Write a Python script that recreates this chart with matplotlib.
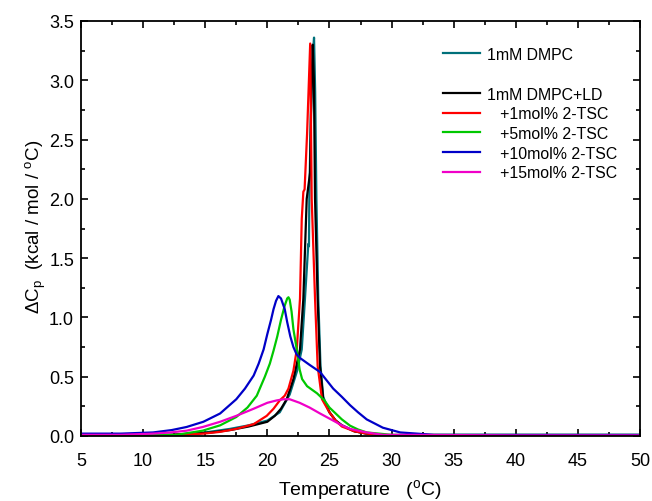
import matplotlib
matplotlib.use("Agg")
import matplotlib.pyplot as plt
from matplotlib.lines import Line2D
from matplotlib.ticker import MultipleLocator, FormatStrFormatter

plt.rcParams['font.family'] = ['Liberation Sans', 'DejaVu Sans']
plt.rcParams['mathtext.fontset'] = 'custom'
plt.rcParams['mathtext.rm'] = 'Liberation Sans'
plt.rcParams['mathtext.it'] = 'Liberation Sans:italic'

labels = ['1mM DMPC', '1mM DMPC+LD', '   +1mol% 2-TSC', '   +5mol% 2-TSC',
          '   +10mol% 2-TSC', '   +15mol% 2-TSC']
colors = ['#00707a', '#000000', '#ff0000', '#00c800', '#0000c8', '#f000c8']

t_dmpc = [5, 10, 13, 15, 17, 18.5, 20, 21, 21.8, 22.4, 22.77, 23.03, 23.2, 23.3, 23.35,
          23.38, 23.5, 23.65, 23.76, 23.85, 23.95, 24.1, 24.28, 24.5, 25.0, 25.5, 26, 27, 28, 30, 50]
cp_dmpc = [0.0, 0.0, 0.01, 0.03, 0.06, 0.09, 0.13, 0.2, 0.35, 0.55, 0.73, 1.16, 1.45, 1.62, 1.6,
           2.0, 2.7, 3.2, 3.36, 2.9, 2.0, 1.16, 0.59, 0.33, 0.2, 0.13, 0.09, 0.04, 0.02, 0.0, 0.0]

t_ld = [5, 10, 12, 14, 15.5, 17, 18.5, 20, 20.6, 21.1, 21.56, 22.1, 22.63, 22.9, 23.17,
        23.44, 23.55, 23.65, 23.75, 23.84, 24.05, 24.24, 24.5, 25.0, 25.5, 26, 27, 28, 30, 50]
cp_ld = [0.0, 0.0, 0.01, 0.02, 0.03, 0.05, 0.08, 0.12, 0.17, 0.23, 0.31, 0.48, 0.73, 1.16, 2.0,
         2.22, 2.9, 3.3, 3.0, 2.0, 1.16, 0.59, 0.31, 0.2, 0.13, 0.09, 0.04, 0.02, 0.0, 0.0]

t_1 = [5, 10, 13, 14.85, 16.2, 17.5, 18.9, 19.95, 20.5, 21.0, 21.4, 21.7, 22.1, 22.37, 22.63,
       22.77, 22.9, 23.0, 23.2, 23.45, 23.57, 23.84, 24.05, 24.4, 25.0, 25.5, 26, 27, 28, 30, 50]
cp_1 = [0.0, 0.0, 0.01, 0.02, 0.035, 0.06, 0.1, 0.17, 0.23, 0.3, 0.34, 0.4, 0.55, 0.73, 1.16,
        1.83, 2.06, 2.08, 2.55, 3.31, 2.0, 1.16, 0.59, 0.31, 0.2, 0.13, 0.08, 0.04, 0.02, 0.0, 0.0]

t_5 = [5, 10, 12.7, 14.8, 16.2, 17.5, 18.4, 19.15, 19.8, 20.2, 20.5, 20.8, 21.1, 21.4, 21.6,
       21.7, 21.8, 21.95, 22.1, 22.37, 22.6, 22.8, 23.2, 24.0, 24.6, 25.0, 25.5, 26, 26.66,
       27.3, 28, 30, 50]
cp_5 = [0.01, 0.01, 0.01, 0.045, 0.09, 0.16, 0.24, 0.34, 0.5, 0.61, 0.72, 0.84, 0.98, 1.1,
        1.16, 1.17, 1.15, 1.05, 0.9, 0.73, 0.56, 0.48, 0.42, 0.36, 0.3, 0.24, 0.19, 0.14, 0.087,
        0.055, 0.03, 0.01, 0.01]

t_10 = [5, 8.2, 10.8, 12.3, 13.5, 14.85, 16.2, 17.5, 18.2, 18.9, 19.3, 19.7, 20.0, 20.3,
        20.5, 20.7, 20.89, 21.1, 21.4, 21.6, 21.85, 22.1, 22.35, 22.6, 23.4, 24.24, 25.3,
        26.0, 26.66, 27.3, 28, 29.3, 30.7, 33.4, 40, 50]
cp_10 = [0.02, 0.02, 0.03, 0.05, 0.076, 0.12, 0.19, 0.31, 0.40, 0.51, 0.61, 0.73, 0.86,
         0.98, 1.07, 1.14, 1.18, 1.16, 1.07, 0.96, 0.84, 0.75, 0.69, 0.66, 0.6, 0.54, 0.4,
         0.33, 0.26, 0.2, 0.14, 0.07, 0.03, 0.01, 0.01, 0.01]

t_15 = [5, 8.2, 10.8, 12.2, 13.5, 14.8, 16.2, 17.5, 18.9, 20.0, 20.75, 21.3, 21.8, 22.6,
        23.4, 24.24, 25.3, 26.0, 26.66, 28, 29.3, 31, 40, 50]
cp_15 = [0.01, 0.01, 0.02, 0.03, 0.045, 0.076, 0.12, 0.17, 0.23, 0.28, 0.3, 0.31, 0.31, 0.28,
         0.24, 0.19, 0.13, 0.09, 0.06, 0.03, 0.01, 0.01, 0.005, 0.005]

series = [(t_dmpc, cp_dmpc), (t_ld, cp_ld), (t_1, cp_1), (t_5, cp_5), (t_10, cp_10), (t_15, cp_15)]

fig = plt.figure(figsize=(6.52, 5.02), dpi=100)
ax = fig.add_axes([81/652, 65/502, 559/652, 415/502])

handles = []
for (t, cp), c, lab in zip(series, colors, labels):
    h, = ax.plot(t, cp, color=c, lw=1.6, label=lab)
    handles.append(h)

ax.set_xlim(5, 50)
ax.set_ylim(0, 3.5)
ax.xaxis.set_major_locator(MultipleLocator(5))
ax.xaxis.set_minor_locator(MultipleLocator(2.5))
ax.yaxis.set_major_locator(MultipleLocator(0.5))
ax.yaxis.set_minor_locator(MultipleLocator(0.25))
ax.tick_params(which='both', direction='in', top=True, right=True, labelsize=13, width=1.2)
ax.tick_params(which='major', length=5)
ax.tick_params(which='minor', length=3)
ax.tick_params(axis='x', which='major', pad=11.5)
ax.tick_params(axis='y', which='major', pad=5)
ax.yaxis.set_major_formatter(FormatStrFormatter('%.1f'))
for s in ax.spines.values():
    s.set_linewidth(1.3)

ax.set_xlabel(r'Temperature   ($^\mathrm{o}$C)', fontsize=14, labelpad=6)
ax.set_ylabel(r'$\Delta$C$_\mathrm{p}$  (kcal / mol / $^\mathrm{o}$C)', fontsize=13.5)
ax.yaxis.set_label_coords((48 - 81) / 559, (437 - 227) / 415)

blank = Line2D([], [], color='none')
hl = [handles[0], blank] + handles[1:]
ll = [labels[0], ''] + labels[1:]
ax.legend(hl, ll, loc='upper left', bbox_to_anchor=(443/652, (502-48)/502),
          bbox_transform=fig.transFigure, frameon=False, fontsize=11.4,
          handlelength=2.35, handletextpad=0.4, labelspacing=0.3, borderpad=0, borderaxespad=0)

fig.savefig('out.png', dpi=100)
